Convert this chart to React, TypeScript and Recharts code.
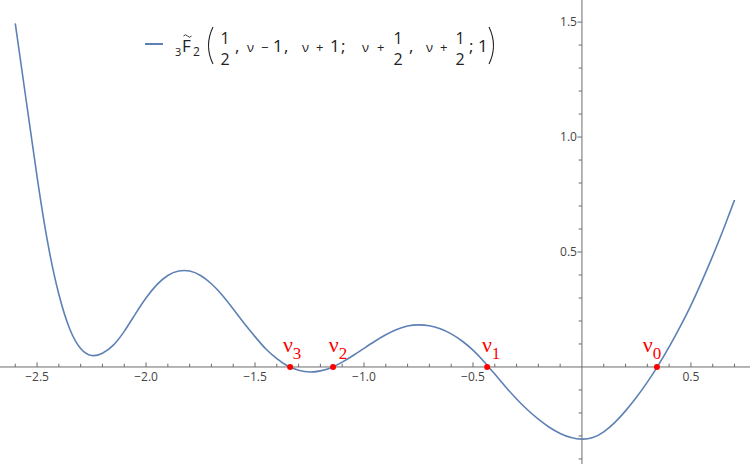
import React from "react";
import {
  ComposedChart,
  Legend,
  Line,
  ReferenceDot,
  ReferenceLine,
  Scatter,
  XAxis,
  YAxis,
} from "recharts";

// curve samples
const xValues = [
  -2.6, -2.55, -2.5, -2.45, -2.4, -2.35, -2.3, -2.25, -2.2, -2.15, -2.1, -2.05,
  -2.0, -1.95, -1.9, -1.85, -1.8, -1.75, -1.7, -1.65, -1.6, -1.55, -1.5, -1.45,
  -1.4, -1.35, -1.3, -1.25, -1.2, -1.15, -1.1, -1.05, -1.0, -0.95, -0.9, -0.85,
  -0.8, -0.75, -0.7, -0.65, -0.6, -0.55, -0.5, -0.45, -0.4, -0.35, -0.3, -0.25,
  -0.2, -0.15, -0.1, -0.05, 0.0, 0.05, 0.1, 0.15, 0.2, 0.25, 0.3, 0.35, 0.4,
  0.45, 0.5, 0.55, 0.6, 0.65, 0.7,
];
const yValues = [
  1.494, 1.16, 0.828, 0.535, 0.316, 0.165, 0.08, 0.05, 0.06, 0.095, 0.155,
  0.229, 0.3, 0.358, 0.398, 0.417, 0.417, 0.398, 0.362, 0.312, 0.252, 0.19,
  0.132, 0.078, 0.036, 0.004, -0.014, -0.022, -0.017, -0.003, 0.021, 0.05,
  0.081, 0.112, 0.14, 0.163, 0.178, 0.183, 0.179, 0.166, 0.144, 0.113, 0.073,
  0.024, -0.031, -0.087, -0.139, -0.186, -0.227, -0.262, -0.289, -0.307, -0.314,
  -0.307, -0.282, -0.242, -0.191, -0.132, -0.066, 0.007, 0.087, 0.174, 0.268,
  0.372, 0.483, 0.601, 0.726,
];

// zeros marked in red
const rootX = [-1.339, -1.142, -0.435, 0.344];
const rootIndex = ["3", "2", "1", "0"];
const rootLabelNudge = [2, 5, 4, -5];

const xMajorTicks = [-2.5, -2.0, -1.5, -1.0, -0.5, 0.5];
const xMajorLabels = ["\u22122.5", "\u22122.0", "\u22121.5", "\u22121.0", "\u22120.5", "0.5"];
const xMinorTicks = [
  -2.6, -2.4, -2.3, -2.2, -2.1, -1.9, -1.8, -1.7, -1.6, -1.4, -1.3, -1.2, -1.1,
  -0.9, -0.8, -0.7, -0.6, -0.4, -0.3, -0.2, -0.1, 0.1, 0.2, 0.3, 0.4, 0.6, 0.7,
];
const yMajorTicks = [0.5, 1.0, 1.5];
const yMajorLabels = ["0.5", "1.0", "1.5"];
const yMinorTicks = [
  -0.4, -0.3, -0.2, -0.1, 0.1, 0.2, 0.3, 0.4, 0.6, 0.7, 0.8, 0.9, 1.1, 1.2, 1.3,
  1.4,
];

const X_DOMAIN: [number, number] = [-2.67, 0.771];
const Y_DOMAIN: [number, number] = [-0.422, 1.596];

const BLUE = "#5E81B5";
const AXIS = "#6b6b6b";
const LABEL = "#444";
const SANS = "'Open Sans', 'DejaVu Sans', sans-serif";
const SERIF = "'Liberation Serif', 'DejaVu Serif', serif";

const curve = xValues.map((x, i) => ({ x, y: yValues[i] }));
const roots = rootX.map((x, i) => ({
  x,
  y: 0,
  k: rootIndex[i],
  dx: rootLabelNudge[i],
}));

function RootMark(props: any) {
  const { cx, cy, payload } = props;
  return (
    <g>
      <circle cx={cx} cy={cy} r={3} fill="#ff0000" />
      <text
        x={cx + payload.dx}
        y={cy - 15}
        textAnchor="middle"
        fill="#ff0000"
        fontFamily={SERIF}
        fontSize={22}
      >
        ν
        <tspan fontSize={17} dy={7}>
          {payload.k}
        </tspan>
      </text>
    </g>
  );
}

function MathLegend() {
  const t = (x: number, s: string, size = 17, y = 52, anchor = "start") => (
    <text
      x={x}
      y={y}
      fontSize={size}
      fontFamily={SANS}
      fill="#222"
      textAnchor={anchor as any}
    >
      {s}
    </text>
  );
  const frac = (cx: number) => (
    <g>
      {t(cx, "1", 16, 44, "middle")}
      {t(cx, "2", 16, 65, "middle")}
    </g>
  );
  return (
    <svg width={750} height={80} style={{ display: "block" }}>
      <line x1={145} x2={163} y1={44} y2={44} stroke={BLUE} strokeWidth={2} />
      {t(175, "3", 11, 56)}
      {t(182, "F", 17, 52)}
      <path d="M183.5 36 q2 -2.5 4 0 t4 0" stroke="#222" strokeWidth={0.9} fill="none" />
      {t(193, "2", 12, 56)}
      <path d="M213 27 Q204 45.5 213 64" stroke="#222" strokeWidth={1.1} fill="none" />
      {t(225, "1", 16, 44, "middle")}
      {t(225, "2", 16, 65, "middle")}
      {t(235, ",")}
      {t(247, "ν", 13)}
      {t(261, "\u2212", 13)}
      {t(273, "1")}
      {t(284, ",")}
      {t(302, "ν", 13)}
      {t(316, "+", 13)}
      {t(330, "1")}
      {t(341, ";")}
      {t(362, "ν", 13)}
      {t(377, "+", 13)}
      {frac(398)}
      {t(409, ",")}
      {t(426, "ν", 13)}
      {t(440, "+", 13)}
      {frac(460)}
      {t(469, ";")}
      {t(478, "1")}
      <path d="M489 27 Q498 45.5 489 64" stroke="#222" strokeWidth={1.1} fill="none" />
    </svg>
  );
}

export default function App() {
  return (
    <div style={{ position: "absolute", left: 0, top: 0, width: 750, height: 464, background: "#fff" }}>
      <ComposedChart
        width={750}
        height={464}
        data={curve}
        margin={{ top: 0, right: 0, bottom: 0, left: 0 }}
      >
        <XAxis type="number" dataKey="x" domain={X_DOMAIN} allowDataOverflow hide />
        <YAxis type="number" domain={Y_DOMAIN} allowDataOverflow hide />
        <Legend
          verticalAlign="middle"
          layout="horizontal"
          wrapperStyle={{ left: 0, top: 0, width: 750, height: 80 }}
          content={() => <MathLegend />}
        />

        <ReferenceLine y={0} stroke={AXIS} strokeWidth={1} />
        <ReferenceLine x={0} stroke={AXIS} strokeWidth={1} />

        {xMinorTicks.map((t) => (
          <ReferenceLine
            key={"xm" + t}
            segment={[{ x: t, y: 0 }, { x: t, y: 0.014 }]}
            stroke={AXIS}
          />
        ))}
        {xMajorTicks.map((t) => (
          <ReferenceLine
            key={"xM" + t}
            segment={[{ x: t, y: 0 }, { x: t, y: 0.02 }]}
            stroke={AXIS}
          />
        ))}
        {xMajorTicks.map((t, i) => (
          <ReferenceDot
            key={"xl" + t}
            x={t}
            y={0}
            r={0}
            fill="none"
            stroke="none"
            label={{
              value: xMajorLabels[i],
              position: "bottom",
              offset: 6,
              fill: LABEL,
              fontSize: 12,
              fontFamily: SANS,
            }}
          />
        ))}

        {yMinorTicks.map((t) => (
          <ReferenceLine
            key={"ym" + t}
            segment={[{ x: 0, y: t }, { x: -0.015, y: t }]}
            stroke={AXIS}
          />
        ))}
        {yMajorTicks.map((t) => (
          <ReferenceLine
            key={"yM" + t}
            segment={[{ x: 0, y: t }, { x: -0.021, y: t }]}
            stroke={AXIS}
          />
        ))}
        {yMajorTicks.map((t, i) => (
          <ReferenceDot
            key={"yl" + t}
            x={0}
            y={t}
            r={0}
            fill="none"
            stroke="none"
            label={{
              value: yMajorLabels[i],
              position: "left",
              offset: 5,
              fill: LABEL,
              fontSize: 12,
              fontFamily: SANS,
            }}
          />
        ))}

        <Line
          type="natural"
          dataKey="y"
          stroke={BLUE}
          strokeWidth={1.6}
          dot={false}
          activeDot={false}
          isAnimationActive={false}
        />
        <Scatter data={roots} dataKey="y" shape={RootMark} isAnimationActive={false} />
      </ComposedChart>
    </div>
  );
}
